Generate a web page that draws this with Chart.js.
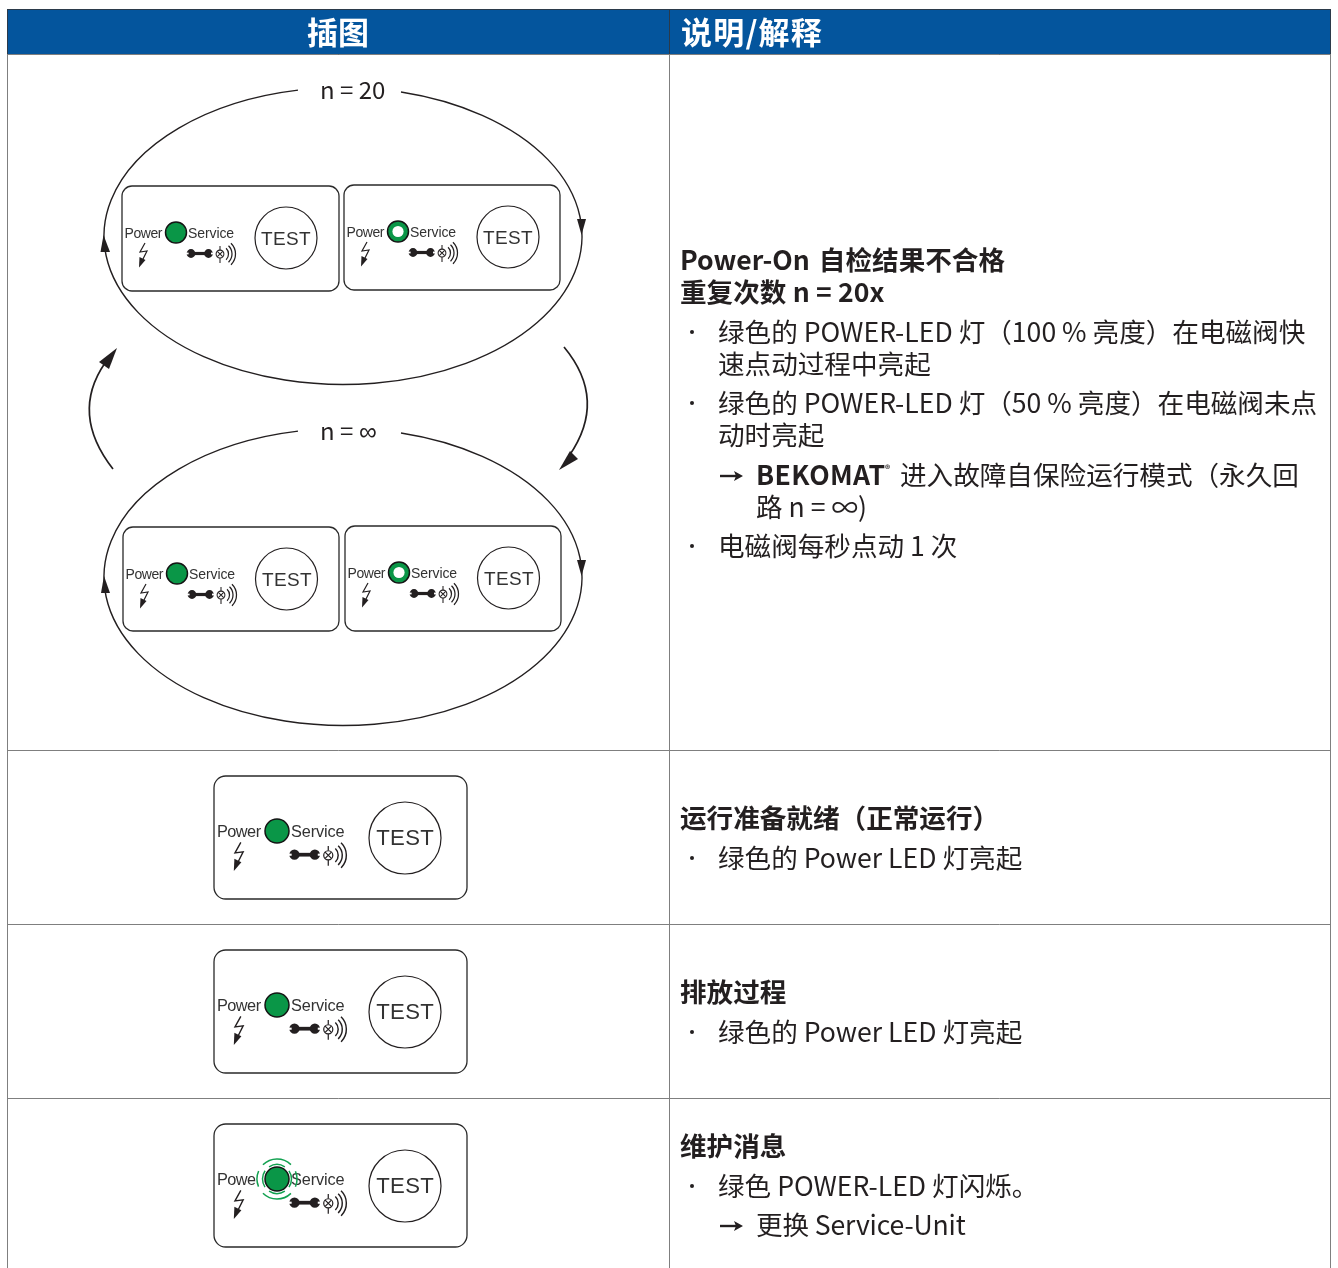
<!DOCTYPE html>
<html><head><meta charset="utf-8">
<script src="https://cdn.jsdelivr.net/npm/chart.js@4/dist/chart.umd.min.js"></script>
<style>html,body{margin:0;padding:0;background:#fff}canvas{display:block}</style>
</head><body><canvas id="c" width="1338" height="1268"></canvas>
<script>
// ---- table ----
const gridX = [7.5,7.5,null,669.5,669.5,null,1330.5,1330.5,null,7.5,1330.5,null,7.5,1330.5,null,7.5,1330.5,null,7.5,1330.5];
const gridY = [54,1268,null,54,1268,null,54,1268,null,54.5,54.5,null,750.5,750.5,null,924.5,924.5,null,1098.5,1098.5];
const headerBand = [7.5,9.5,1330.5,54.5];
const headerDivider = 669.5;
// ---- device panels ----
const panelX = [122,344,123,345,214,214,214];
const panelY = [186,185,527,526,776,950,1124];
const panelW = [217,216,216,216,253,253,253];
const panelH = [105,105,104,105,123,123,123];
const ledX = [176,398,177,399,277,277,277];
const ledY = [232.5,231.5,573.5,572.5,831,1005,1179];
const ledR = [10.5,10.5,10.5,10.5,12,12,12];
const ledHollowX = [398,399];
const ledHollowY = [231.5,572.5];
const testX = [286,508,286.5,508.5,405,405,405];
const testY = [238,237,579,578,838,1012,1186];
const testR = [31,31,31,31,36,36,36];
const blinkIndex = 6;
// ---- loop ellipses ----
const ellipseCx = [343,343];
const ellipseCy = [236,577];
const ellipseRx = [239,239];
const ellipseRy = [148.5,148.5];
const gapLeftX = [298,298];
const gapRightX = [401,401];
const arrowTips = [[[103.5,235],[100.5,252],[110,252]],[[581.5,235],[577,219],[586,219]],
                   [[104,576],[101,593],[110,593]],[[581.5,576],[577,560],[586,560]],
                   [[117,348],[99,362],[109,369]],[[559,470],[570,451],[578,459]]];
const sideArcs = [[113,469,70,414,105,363],[564,347,608,400,569,456]];
// ---- text ----
const headerText = ['插图','说明/解释'];
const headerTextX = [338,681];
const headerTextY = [44,44];
const loopLabels = ['n = 20','n = '];
const loopLabelX = [320,320];
const loopLabelY = [99,440];
const boldLines = ['Power-On 自检结果不合格','重复次数 n = 20x','BEKOMAT','运行准备就绪（正常运行）','排放过程','维护消息'];
const boldX = [680,680,756,680,680,680];
const boldY = [270,302,485,828,1002,1156];
const bodyLines = ['绿色的 POWER-LED 灯（100 % 亮度）在电磁阀快','速点动过程中亮起','绿色的 POWER-LED 灯（50 % 亮度）在电磁阀未点','动时亮起','进入故障自保险运行模式（永久回','路 n = ∞)','电磁阀每秒点动 1 次','绿色的 Power LED 灯亮起','绿色的 Power LED 灯亮起','绿色 POWER-LED 灯闪烁。','更换 Service-Unit'];
const bodyX = [718,718,718,718,900,756,718,718,718,718,756];
const bodyY = [342,374,413,445,485,517,556,868,1042,1196,1235];
const bulletX = [692,692,692,692,692,692];
const bulletY = [332,403,546,858,1032,1186];
const arrowX = [720,720];
const arrowY = [476,1226];
const panelWords = ['Power','Service','TEST'];

const INK='#231f20', GREEN='#0a9647', HALO='#12a150', BLUE='#04559d';
const CJK='"Noto Sans CJK SC"', SANS='"Liberation Sans"';

const page = {
  id:'page',
  beforeDatasetsDraw(chart){
    const {ctx,scales:{x,y}}=chart;
    ctx.save();
    ctx.fillStyle=BLUE;
    const [a,b,c,d]=headerBand;
    ctx.fillRect(x.getPixelForValue(a),y.getPixelForValue(b),x.getPixelForValue(c)-x.getPixelForValue(a),y.getPixelForValue(d)-y.getPixelForValue(b));
    ctx.strokeStyle='#2b3a4a';ctx.lineWidth=1;
    ctx.strokeRect(x.getPixelForValue(a),y.getPixelForValue(b),x.getPixelForValue(c)-x.getPixelForValue(a),y.getPixelForValue(d)-y.getPixelForValue(b));
    ctx.beginPath();ctx.moveTo(x.getPixelForValue(headerDivider),y.getPixelForValue(b));ctx.lineTo(x.getPixelForValue(headerDivider),y.getPixelForValue(d));ctx.stroke();
    // loops
    ctx.strokeStyle=INK;ctx.lineWidth=1.4;ctx.fillStyle=INK;
    ellipseCx.forEach((cx,i)=>{
      const px=x.getPixelForValue(cx),py=y.getPixelForValue(ellipseCy[i]),rx=ellipseRx[i],ry=ellipseRy[i];
      const a1=-Math.acos((gapRightX[i]-cx)/rx),a2=-Math.acos((gapLeftX[i]-cx)/rx);
      ctx.beginPath();ctx.ellipse(px,py,rx,ry,0,a1,a2+Math.PI*2);ctx.stroke();
    });
    ctx.lineWidth=1.7;
    sideArcs.forEach(s=>{
      ctx.beginPath();ctx.moveTo(x.getPixelForValue(s[0]),y.getPixelForValue(s[1]));
      ctx.quadraticCurveTo(x.getPixelForValue(s[2]),y.getPixelForValue(s[3]),x.getPixelForValue(s[4]),y.getPixelForValue(s[5]));ctx.stroke();
    });
    arrowTips.forEach(t=>{
      ctx.beginPath();t.forEach((p,k)=>ctx[k?'lineTo':'moveTo'](x.getPixelForValue(p[0]),y.getPixelForValue(p[1])));ctx.closePath();ctx.fill();
    });
    // panels
    panelX.forEach((px,i)=>{
      ctx.beginPath();
      ctx.roundRect(x.getPixelForValue(px),y.getPixelForValue(panelY[i]),panelW[i],panelH[i],10*panelW[i]/217);
      ctx.fillStyle='#fff';ctx.fill();ctx.strokeStyle='#2a2a2a';ctx.lineWidth=1.3;ctx.stroke();
    });
    ctx.restore();
  },
  afterDatasetsDraw(chart){
    const {ctx,scales:{x,y}}=chart;
    ctx.save();
    ctx.textBaseline='alphabetic';ctx.textAlign='left';
    // panel detail
    panelX.forEach((px,i)=>{
      const s=panelW[i]>240?1.166:1;
      ctx.save();ctx.translate(x.getPixelForValue(px),y.getPixelForValue(panelY[i]));ctx.scale(s,s);
      ctx.fillStyle='#333';ctx.font='14px '+SANS;ctx.letterSpacing='-0.45px';
      ctx.fillText(panelWords[0],2.5,52);
      ctx.letterSpacing='-0.1px';
      ctx.fillText(panelWords[1],66,52);
      ctx.font='19px '+SANS;ctx.letterSpacing='0.3px';ctx.textAlign='center';
      ctx.fillText(panelWords[2],164,59);
      ctx.textAlign='left';ctx.letterSpacing='0px';
      ctx.strokeStyle=INK;ctx.fillStyle=INK;
      // bolt
      ctx.lineWidth=1.2;ctx.beginPath();ctx.moveTo(23,57);ctx.lineTo(18,66);ctx.lineTo(25,65);ctx.lineTo(20,75);ctx.stroke();
      ctx.beginPath();ctx.moveTo(17,81.5);ctx.lineTo(17.5,71);ctx.lineTo(23.5,74);ctx.closePath();ctx.fill();
      // wrench
      ctx.lineWidth=3.2;ctx.beginPath();ctx.moveTo(68,67.5);ctx.lineTo(88,67.5);ctx.stroke();
      ctx.beginPath();ctx.arc(69,67.5,4.4,0,7);ctx.arc(86.5,67.5,4.4,0,7);ctx.fill();
      ctx.fillStyle='#fff';ctx.fillRect(64,66.6,2.6,1.8);ctx.fillRect(89,66.6,2.6,1.8);
      // horn
      ctx.lineWidth=1.05;ctx.beginPath();ctx.arc(98,68,3.9,0,7);ctx.stroke();
      ctx.beginPath();ctx.moveTo(98,60);ctx.lineTo(98,64);ctx.moveTo(98,72);ctx.lineTo(98,77);
      ctx.moveTo(95.3,65.3);ctx.lineTo(100.7,70.7);ctx.moveTo(100.7,65.3);ctx.lineTo(95.3,70.7);ctx.stroke();
      ctx.lineWidth=1.25;
      [8,11.5,15].forEach(r=>{ctx.beginPath();ctx.arc(98.5,68,r,-0.8,0.8);ctx.stroke();});
      ctx.restore();
    });
    // blink halo
    const hx=x.getPixelForValue(ledX[blinkIndex]),hy=y.getPixelForValue(ledY[blinkIndex]);
    ctx.strokeStyle='#fff';ctx.lineWidth=8;ctx.beginPath();ctx.arc(hx,hy,17.5,2.5,3.8);ctx.stroke();
    ctx.strokeStyle=HALO;ctx.lineWidth=1.5;
    [[14.5,[[2.55,3.75],[-.6,.6],[1.0,2.15],[-2.15,-1.0]]],[20,[[-2.35,-.8],[.8,2.35],[2.75,3.55],[-.4,.4]]]].forEach(([r,segs])=>{
      segs.forEach(([p,q])=>{ctx.beginPath();ctx.arc(hx,hy,r,p,q);ctx.stroke();});
    });
    // header text
    ctx.fillStyle='#fff';ctx.font='700 31px '+CJK;
    ctx.textAlign='center';ctx.fillText(headerText[0],x.getPixelForValue(headerTextX[0]),y.getPixelForValue(headerTextY[0]));
    ctx.textAlign='left';ctx.letterSpacing='1.2px';
    ctx.fillText(headerText[1],x.getPixelForValue(headerTextX[1]),y.getPixelForValue(headerTextY[1]));
    ctx.letterSpacing='0px';
    // loop labels
    ctx.fillStyle=INK;ctx.font='400 24px '+CJK;
    loopLabels.forEach((t,i)=>ctx.fillText(t,x.getPixelForValue(loopLabelX[i]),y.getPixelForValue(loopLabelY[i])));
    ctx.font='400 25px '+SANS;ctx.fillText('∞',x.getPixelForValue(359),y.getPixelForValue(loopLabelY[1]));
    // body
    ctx.font='700 26.6px '+CJK;
    boldLines.forEach((t,i)=>{
      ctx.wordSpacing=i===0?'3px':(i===1?'0.3px':'0px');
      ctx.letterSpacing=i===2?'0.4px':'0px';
      ctx.fillText(t,x.getPixelForValue(boldX[i]),y.getPixelForValue(boldY[i]));
    });
    ctx.wordSpacing='0px';ctx.letterSpacing='0px';
    ctx.font='400 26.6px '+CJK;
    bodyLines.forEach((t,i)=>{
      ctx.letterSpacing=i===10?'-0.15px':'0px';
      ctx.fillText(t,x.getPixelForValue(bodyX[i]),y.getPixelForValue(bodyY[i]));
    });
    ctx.letterSpacing='0px';
    ctx.font='700 10px '+CJK;ctx.fillText('®',x.getPixelForValue(885),y.getPixelForValue(473));
    // arrows
    ctx.lineWidth=2.4;ctx.strokeStyle=INK;ctx.fillStyle=INK;
    arrowX.forEach((ax,i)=>{
      const px=x.getPixelForValue(ax),py=y.getPixelForValue(arrowY[i]);
      ctx.beginPath();ctx.moveTo(px,py);ctx.lineTo(px+18,py);ctx.stroke();
      ctx.beginPath();ctx.moveTo(px+23,py);ctx.lineTo(px+14,py-5);ctx.lineTo(px+16,py);ctx.lineTo(px+14,py+5);ctx.closePath();ctx.fill();
    });
    ctx.restore();
  }
};

new Chart(document.getElementById('c').getContext('2d'),{
  type:'scatter',
  data:{datasets:[
    {order:5,data:gridX.map((v,i)=>v===null?{x:NaN,y:NaN}:{x:v,y:gridY[i]}),showLine:true,spanGaps:false,borderColor:'#7f7f7f',borderWidth:1,pointRadius:0,clip:false},
    {order:4,data:testX.map((v,i)=>({x:v,y:testY[i]})),pointRadius:testR,pointBackgroundColor:'#fff',pointBorderColor:INK,pointBorderWidth:1.2},
    {order:3,data:ledX.map((v,i)=>({x:v,y:ledY[i]})),pointRadius:ledR,pointBackgroundColor:GREEN,pointBorderColor:'#141414',pointBorderWidth:1.5},
    {order:2,data:ledHollowX.map((v,i)=>({x:v,y:ledHollowY[i]})),pointRadius:5.6,pointBackgroundColor:'#fff',pointBorderWidth:0},
    {order:1,data:bulletX.map((v,i)=>({x:v,y:bulletY[i]})),pointRadius:2,pointBackgroundColor:INK,pointBorderWidth:0}
  ]},
  plugins:[page],
  options:{
    responsive:false,animation:false,devicePixelRatio:1,
    layout:{padding:0,autoPadding:false},
    events:[],
    plugins:{legend:{display:false},tooltip:{enabled:false},title:{display:false}},
    scales:{
      x:{type:'linear',min:0,max:1338,display:false},
      y:{type:'linear',min:0,max:1268,reverse:true,display:false}
    }
  }
});
</script></body></html>
